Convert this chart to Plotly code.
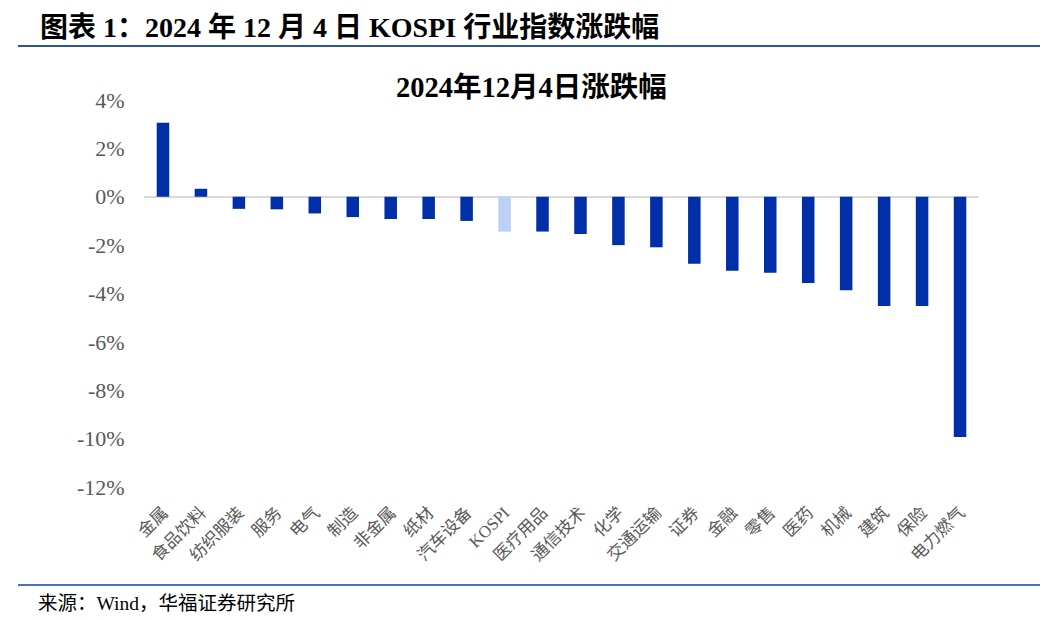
import plotly.graph_objects as go

categories = ["金属", "食品饮料", "纺织服装", "服务", "电气", "制造", "非金属", "纸材", "汽车设备",
              "KOSPI", "医疗用品", "通信技术", "化学", "交通运输", "证券", "金融", "零售", "医药",
              "机械", "建筑", "保险", "电力燃气"]
values = [3.06, 0.33, -0.50, -0.52, -0.69, -0.84, -0.92, -0.92, -1.00,
          -1.44, -1.44, -1.54, -2.00, -2.09, -2.77, -3.06, -3.14, -3.57,
          -3.87, -4.52, -4.52, -9.93]
y_ticks = [4, 2, 0, -2, -4, -6, -8, -10, -12]
y_tick_labels = ["4%", "2%", "0%", "-2%", "-4%", "-6%", "-8%", "-10%", "-12%"]

DARK = "#002FA7"
LIGHT = "#BCCFF6"
colors = [LIGHT if c == "KOSPI" else DARK for c in categories]

FONT = "Liberation Serif, Times New Roman, Noto Sans CJK SC, serif"

# page body has an 8px margin; plot area targeted at page x 144..979, y 100..487
PL, PR, PT, PB = 144, 979, 100, 487
PW, PH = PR - PL, PB - PT

def px(x):
    return (x - PL) / PW

def py(y):
    return (PB - y) / PH

fig = go.Figure(go.Bar(x=categories, y=values, marker=dict(color=colors, line=dict(width=0)),
                       width=0.33, hoverinfo="x+y"))

fig.update_layout(
    width=1054, height=620,
    margin=dict(l=PL - 8, r=1054 - (PR - 8), t=PT - 8, b=620 - (PB - 8)),
    paper_bgcolor="white", plot_bgcolor="white",
    showlegend=False,
    font=dict(family=FONT, color="#595959"),
    xaxis=dict(type="category", tickangle=-45, showline=False, showgrid=False,
               ticks="outside", ticklen=8, tickcolor="rgba(0,0,0,0)",
               tickfont=dict(size=17, color="#595959", family=FONT), range=[-0.5, 21.5]),
    yaxis=dict(range=[-12, 4], tickvals=y_ticks, ticktext=y_tick_labels, showgrid=False,
               showline=False, zeroline=True, zerolinecolor="#D9D9D9", zerolinewidth=2,
               tickfont=dict(size=22, color="#595959", family=FONT),
               ticks="outside", ticklen=14, tickcolor="rgba(0,0,0,0)"),
    shapes=[
        dict(type="line", xref="paper", yref="paper", x0=px(18), x1=px(1040),
             y0=py(46), y1=py(46), line=dict(color="#2F5597", width=2)),
        dict(type="line", xref="paper", yref="paper", x0=px(18), x1=px(1040),
             y0=py(585), y1=py(585), line=dict(color="#4472C4", width=2)),
    ],
    annotations=[
        dict(text="<b>图表 1：2024 年 12 月 4 日 KOSPI 行业指数涨跌幅</b>", xref="paper", yref="paper",
             x=px(38), y=py(28), xanchor="left", yanchor="middle", showarrow=False,
             font=dict(size=28, color="#000000", family=FONT)),
        dict(text="<b>2024年12月4日涨跌幅</b>", xref="paper", yref="paper",
             x=px(531), y=py(88), xanchor="center", yanchor="middle", showarrow=False,
             font=dict(size=28.5, color="#000000", family=FONT)),
        dict(text="来源：Wind，华福证券研究所", xref="paper", yref="paper",
             x=px(36), y=py(603), xanchor="left", yanchor="middle", showarrow=False,
             font=dict(size=19.5, color="#000000", family=FONT)),
    ],
)

fig.write_html("out.html")
